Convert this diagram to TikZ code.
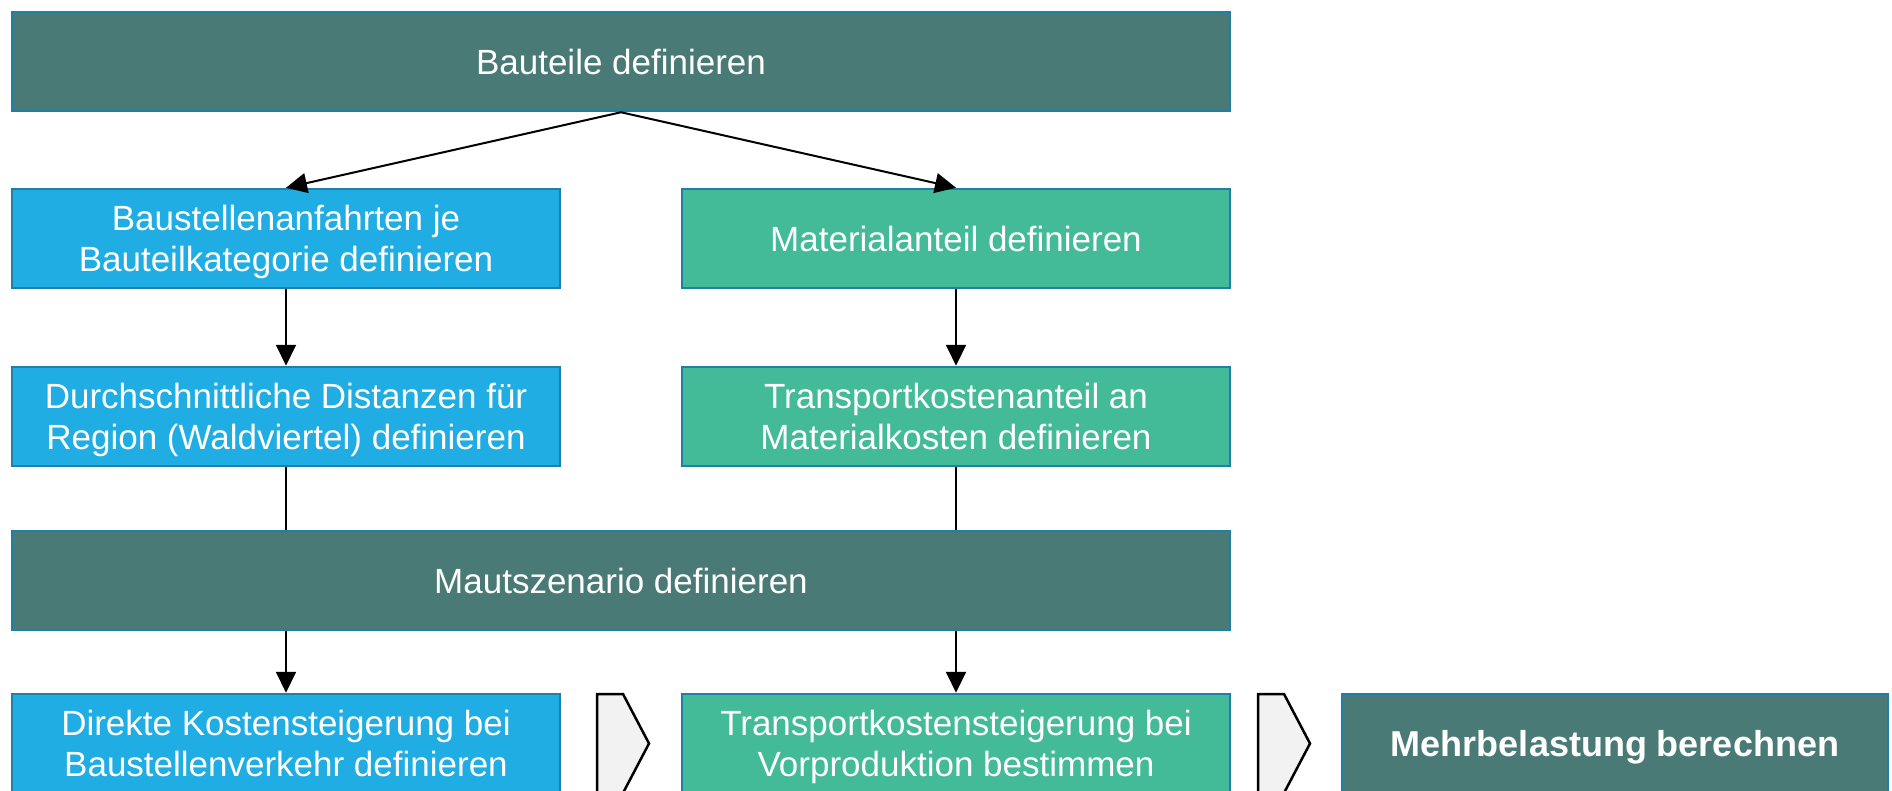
\documentclass[tikz,border=0pt]{standalone}
\usepackage{fontspec}
\setmainfont{Liberation Sans}
\usetikzlibrary{arrows.meta}
\definecolor{darkteal}{HTML}{4A7A76}
\definecolor{skyblue}{HTML}{1FADE4}
\definecolor{seagreen}{HTML}{43BA98}
\definecolor{boxborder}{HTML}{1F7FA8}
\definecolor{chevfill}{HTML}{F2F2F2}
\tikzset{
  box/.style={draw=boxborder, line width=2.5pt, minimum height=99pt, text=white,
    align=center, font=\fontsize{35}{41}\selectfont, inner sep=0pt,
    text height=25pt, text depth=0pt},
  twoline/.style={text height=66pt, text depth=0pt},
  wide/.style={box, minimum width=1218pt, fill=darkteal},
  bluebox/.style={box, minimum width=548pt, fill=skyblue},
  greenbox/.style={box, minimum width=548pt, fill=seagreen},
  arr/.style={line width=2pt, -{Triangle[length=21pt,width=20pt]}},
  plainline/.style={line width=2pt},
  chevron/.style={draw=black, fill=chevfill, line width=2.5pt, line join=miter}
}
\begin{document}
\begin{tikzpicture}[x=1pt,y=-1pt]
\useasboundingbox (0,0) rectangle (1892,790);
\node[wide] (top) at (621,61.5) {Bauteile definieren};
\node[bluebox, twoline] (r2L) at (286,238.5) {Baustellenanfahrten je\\Bauteilkategorie definieren};
\node[greenbox] (r2R) at (956,238.5) {Materialanteil definieren};
\node[bluebox, twoline] (r3L) at (286,416.5) {Durchschnittliche Distanzen für\\Region (Waldviertel) definieren};
\node[greenbox, twoline] (r3R) at (956,416.5) {Transportkostenanteil an\\Materialkosten definieren};
\node[wide] (maut) at (621,580.5) {Mautszenario definieren};
\node[bluebox, twoline] (r5L) at (286,743.5) {Direkte Kostensteigerung bei\\Baustellenverkehr definieren};
\node[greenbox, twoline] (r5R) at (956,743.5) {Transportkostensteigerung bei\\Vorproduktion bestimmen};
\node[box, fill=darkteal, minimum width=546pt, text height=26pt, font=\fontsize{36}{41}\selectfont\bfseries] (mehr) at (1615,743.5) {Mehrbelastung berechnen};

\draw[arr] (top.south) -- (r2L.north);
\draw[arr] (top.south) -- (r2R.north);
\draw[arr] (r2L) -- (r3L);
\draw[arr] (r2R) -- (r3R);
\draw[plainline] (r3L.south) -- (r3L.south |- maut.north);
\draw[plainline] (r3R.south) -- (r3R.south |- maut.north);
\draw[arr] (r5L.north |- maut.south) -- (r5L.north);
\draw[arr] (r5R.north |- maut.south) -- (r5R.north);

\draw[chevron] (597,694) -- (623,694) -- (649,743.5) -- (623,793) -- (597,793) -- cycle;
\draw[chevron] (1258,694) -- (1284,694) -- (1310,743.5) -- (1284,793) -- (1258,793) -- cycle;
\end{tikzpicture}
\end{document}
